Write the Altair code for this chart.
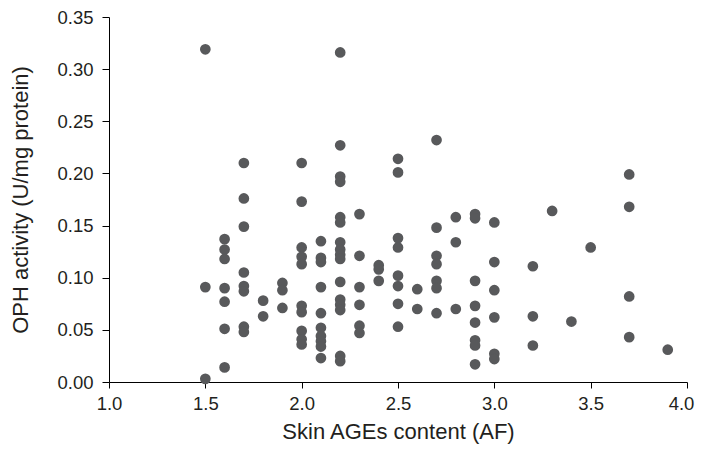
import altair as alt
import pandas as pd

skin_ages = (
    [1.5] * 3
    + [1.6] * 7
    + [1.7] * 8
    + [1.8] * 2
    + [1.9] * 3
    + [2.0] * 10
    + [2.1] * 10
    + [2.2] * 16
    + [2.3] * 6
    + [2.4] * 3
    + [2.5] * 8
    + [2.6] * 2
    + [2.7] * 7
    + [2.8] * 3
    + [2.9] * 8
    + [3.0] * 6
    + [3.2] * 3
    + [3.3] * 1
    + [3.4] * 1
    + [3.5] * 1
    + [3.7] * 4
    + [3.9] * 1
)

oph_activity = [
    0.319, 0.091, 0.003,
    0.137, 0.127, 0.118, 0.090, 0.077, 0.051, 0.014,
    0.210, 0.176, 0.149, 0.105, 0.092, 0.087, 0.053, 0.048,
    0.078, 0.063,
    0.095, 0.088, 0.071,
    0.210, 0.173, 0.129, 0.120, 0.113, 0.073, 0.067, 0.049, 0.041, 0.036,
    0.135, 0.119, 0.115, 0.091, 0.066, 0.052, 0.044, 0.039, 0.034, 0.023,
    0.316, 0.227, 0.197, 0.192, 0.158, 0.153, 0.134, 0.127, 0.122, 0.118,
    0.096, 0.079, 0.074, 0.069, 0.025, 0.020,
    0.161, 0.121, 0.091, 0.074, 0.054, 0.047,
    0.112, 0.108, 0.097,
    0.214, 0.201, 0.138, 0.129, 0.102, 0.092, 0.075, 0.053,
    0.089, 0.070,
    0.232, 0.148, 0.121, 0.113, 0.097, 0.090, 0.066,
    0.158, 0.134, 0.070,
    0.161, 0.157, 0.097, 0.073, 0.057, 0.040, 0.035, 0.017,
    0.153, 0.115, 0.088, 0.062, 0.027, 0.022,
    0.111, 0.063, 0.035,
    0.164,
    0.058,
    0.129,
    0.199, 0.168, 0.082, 0.043,
    0.031,
]

x_ticks = [1.0, 1.5, 2.0, 2.5, 3.0, 3.5, 4.0]
y_ticks = [0.0, 0.05, 0.10, 0.15, 0.20, 0.25, 0.30, 0.35]

df = pd.DataFrame({"ages": skin_ages, "oph": oph_activity})

FONT = "Liberation Sans"
TEXT = "#231f20"

chart = (
    alt.Chart(df)
    .mark_circle(size=115, color="#58595b", opacity=1)
    .encode(
        x=alt.X(
            "ages:Q",
            scale=alt.Scale(domain=[1.0, 4.0], nice=False, zero=False),
            axis=alt.Axis(
                title="Skin AGEs content (AF)",
                values=x_ticks,
                format=".1f",
                grid=False,
                domainColor="black",
                tickColor="black",
                tickSize=6,
                labelFont=FONT,
                labelFontSize=18.5,
                labelColor=TEXT,
                labelPadding=6,
                labelOffset={"condition": {"test": "datum.value >= 4", "value": -6}, "value": 0},
                titleFont=FONT,
                titleFontSize=22,
                titleFontWeight="normal",
                titleColor=TEXT,
                titlePadding=9,
                labelFlush=False,
            ),
        ),
        y=alt.Y(
            "oph:Q",
            scale=alt.Scale(domain=[0.0, 0.35], nice=False),
            axis=alt.Axis(
                title="OPH activity (U/mg protein)",
                values=y_ticks,
                format=".2f",
                grid=False,
                domainColor="black",
                tickColor="black",
                tickSize=7,
                labelFont=FONT,
                labelFontSize=18.5,
                labelColor=TEXT,
                labelPadding=9,
                titleFont=FONT,
                titleFontSize=22,
                titleFontWeight="normal",
                titleColor=TEXT,
                titlePadding=24,
                labelFlush=False,
            ),
        ),
    )
    .properties(
        width=578,
        height=365,
        autosize=alt.AutoSizeParams(type="none"),
        padding={"left": 101, "top": 9, "right": 8, "bottom": 63},
    )
    .configure_view(stroke=None)
)

chart.save("out.html", embed_options={"renderer": "svg", "actions": False})
